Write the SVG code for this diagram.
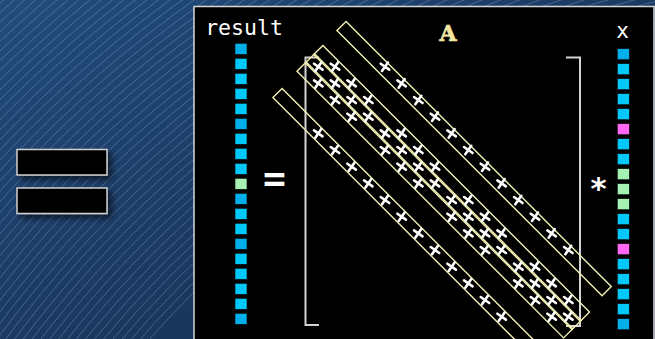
<svg xmlns="http://www.w3.org/2000/svg" xmlns:xlink="http://www.w3.org/1999/xlink" width="655" height="339" viewBox="0 0 655 339">
  <defs>
    <linearGradient id="bg" x1="0" y1="0" x2="1" y2="1">
      <stop offset="0" stop-color="#214c7c"/>
      <stop offset="1" stop-color="#14284a"/>
    </linearGradient>
    <filter id="shadow" x="-20%" y="-40%" width="150%" height="200%">
      <feGaussianBlur in="SourceAlpha" stdDeviation="3"/>
      <feOffset dx="4" dy="4" result="b"/>
      <feComponentTransfer><feFuncA type="linear" slope="0.6"/></feComponentTransfer>
      <feMerge><feMergeNode/><feMergeNode in="SourceGraphic"/></feMerge>
    </filter>
    <filter id="soft" x="-50%" y="-50%" width="200%" height="200%">
      <feGaussianBlur stdDeviation="0.45"/>
    </filter>
    <!-- nonzero entry marker: slightly tilted plus -->
    <g id="nz">
      <path d="M-5.2,0 H5.2 M0,-5.2 V5.2" transform="rotate(35)" stroke="#ffffff" stroke-width="2.6" stroke-linecap="round" fill="none"/>
    </g>
  </defs>
  <style>
    .mono { font-family: "DejaVu Sans Mono", "Liberation Mono", monospace; fill: #ffffff; }
    .band { fill: none; stroke: #f2f0b4; stroke-width: 1.4; }
    .sq { stroke: #0a0a0a; stroke-width: 0.6; }
    .b1 { fill: #00c8f8; }
    .b2 { fill: #00aeea; }
    .gr { fill: #a6f2b2; }
    .mg { fill: #ff66f2; }
    .bracket { fill: none; stroke: #d4d4d4; stroke-width: 2; }
    .hatch { fill: none; stroke: #b4c8e0; stroke-opacity: 0.38; stroke-width: 0.8; }
  </style>

  <!-- backdrop -->
  <g id="backdrop">
    <rect x="0" y="0" width="655" height="339" fill="url(#bg)"/>
    <g class="hatch">
      <circle cx="900" cy="1000" r="1000"/><circle cx="900" cy="1000" r="1007"/><circle cx="900" cy="1000" r="1014"/>
      <circle cx="900" cy="1000" r="1021"/><circle cx="900" cy="1000" r="1028"/><circle cx="900" cy="1000" r="1035"/>
      <circle cx="900" cy="1000" r="1042"/><circle cx="900" cy="1000" r="1049"/><circle cx="900" cy="1000" r="1056"/>
      <circle cx="900" cy="1000" r="1063"/><circle cx="900" cy="1000" r="1070"/><circle cx="900" cy="1000" r="1077"/>
      <circle cx="900" cy="1000" r="1084"/><circle cx="900" cy="1000" r="1091"/><circle cx="900" cy="1000" r="1098"/>
      <circle cx="900" cy="1000" r="1105"/><circle cx="900" cy="1000" r="1112"/><circle cx="900" cy="1000" r="1119"/>
      <circle cx="900" cy="1000" r="1126"/><circle cx="900" cy="1000" r="1133"/><circle cx="900" cy="1000" r="1140"/>
      <circle cx="900" cy="1000" r="1147"/><circle cx="900" cy="1000" r="1154"/><circle cx="900" cy="1000" r="1161"/>
      <circle cx="900" cy="1000" r="1168"/><circle cx="900" cy="1000" r="1175"/><circle cx="900" cy="1000" r="1182"/>
      <circle cx="900" cy="1000" r="1189"/><circle cx="900" cy="1000" r="1196"/><circle cx="900" cy="1000" r="1203"/>
      <circle cx="900" cy="1000" r="1210"/><circle cx="900" cy="1000" r="1217"/><circle cx="900" cy="1000" r="1224"/>
      <circle cx="900" cy="1000" r="1231"/><circle cx="900" cy="1000" r="1238"/><circle cx="900" cy="1000" r="1245"/>
      <circle cx="900" cy="1000" r="1252"/><circle cx="900" cy="1000" r="1259"/><circle cx="900" cy="1000" r="1266"/>
      <circle cx="900" cy="1000" r="1273"/><circle cx="900" cy="1000" r="1280"/><circle cx="900" cy="1000" r="1287"/>
      <circle cx="900" cy="1000" r="1294"/><circle cx="900" cy="1000" r="1301"/><circle cx="900" cy="1000" r="1308"/>
      <circle cx="900" cy="1000" r="1315"/><circle cx="900" cy="1000" r="1322"/><circle cx="900" cy="1000" r="1329"/>
      <circle cx="900" cy="1000" r="1336"/><circle cx="900" cy="1000" r="1343"/><circle cx="900" cy="1000" r="1350"/>
      <circle cx="900" cy="1000" r="1357"/><circle cx="900" cy="1000" r="1364"/><circle cx="900" cy="1000" r="1371"/>
      <circle cx="900" cy="1000" r="1378"/><circle cx="900" cy="1000" r="1385"/><circle cx="900" cy="1000" r="1392"/>
      <circle cx="900" cy="1000" r="1399"/><circle cx="900" cy="1000" r="1406"/><circle cx="900" cy="1000" r="1413"/>
    </g>
  </g>

  <!-- two small boxes on the left -->
  <g id="box-top" filter="url(#shadow)">
    <rect x="17" y="149.5" width="90" height="25.5" fill="#000" stroke="#d0d0d0" stroke-width="1.5"/>
  </g>
  <g id="box-bottom" filter="url(#shadow)">
    <rect x="17" y="188" width="90" height="25.5" fill="#000" stroke="#d0d0d0" stroke-width="1.5"/>
  </g>

  <!-- main panel -->
  <g id="panel">
    <rect x="194" y="6.5" width="460" height="340" fill="#000" stroke="#d8d8d8" stroke-width="1.5"/>
  </g>

  <!-- result vector -->
  <g id="result">
    <text class="mono" x="244" y="35" font-size="21.5" text-anchor="middle">result</text>
    <rect class="sq b2" x="235" y="43.3" width="12" height="11"/>
    <rect class="sq b1" x="235" y="58.3" width="12" height="11"/>
    <rect class="sq b1" x="235" y="73.3" width="12" height="11"/>
    <rect class="sq b1" x="235" y="88.3" width="12" height="11"/>
    <rect class="sq b1" x="235" y="103.3" width="12" height="11"/>
    <rect class="sq b2" x="235" y="118.3" width="12" height="11"/>
    <rect class="sq b1" x="235" y="133.3" width="12" height="11"/>
    <rect class="sq b1" x="235" y="148.3" width="12" height="11"/>
    <rect class="sq b1" x="235" y="163.3" width="12" height="11"/>
    <rect class="sq gr" x="235" y="178.3" width="12" height="11"/>
    <rect class="sq b2" x="235" y="193.3" width="12" height="11"/>
    <rect class="sq b1" x="235" y="208.3" width="12" height="11"/>
    <rect class="sq b1" x="235" y="223.3" width="12" height="11"/>
    <rect class="sq b2" x="235" y="238.3" width="12" height="11"/>
    <rect class="sq b1" x="235" y="253.3" width="12" height="11"/>
    <rect class="sq b1" x="235" y="268.3" width="12" height="11"/>
    <rect class="sq b1" x="235" y="283.3" width="12" height="11"/>
    <rect class="sq b1" x="235" y="298.3" width="12" height="11"/>
    <rect class="sq b2" x="235" y="313.3" width="12" height="11"/>
  </g>

  <g id="equals">
    <text class="mono" x="274.5" y="191" font-size="38" font-weight="bold" text-anchor="middle">=</text>
  </g>

  <!-- matrix A -->
  <g id="matrix">
    <text x="448" y="40.5" font-family="DejaVu Serif, Liberation Serif, serif" font-weight="bold" font-size="22" fill="#f2e8a2" stroke="#f2e8a2" stroke-width="0.7" text-anchor="middle">A</text>
    <path class="bracket" d="M319,57.5 H305.5 V325 H319"/>
    <path class="bracket" d="M566,57.5 H580 V326 H566"/>

    <!-- stored diagonals, offsets +4, -4, 0, +1, -1 -->
    <g id="bands">
      <rect class="band" x="0" y="-6.5" width="375" height="13" transform="translate(341.5,26) rotate(45)"/>
      <rect class="band" x="0" y="-6.5" width="377" height="13" transform="translate(277.5,93) rotate(45)"/>
      <rect class="band" x="0" y="-6.5" width="377" height="13" transform="translate(310,58.4) rotate(45)"/>
      <rect class="band" x="0" y="-6.5" width="377" height="13" transform="translate(318.3,50) rotate(45)"/>
      <rect class="band" x="0" y="-6.5" width="377" height="13" transform="translate(301.6,66.7) rotate(45)"/>
    </g>

    <!-- nonzeros of the 16x16 five-point stencil matrix -->
    <g id="entries" transform="translate(318.3,66.7)" filter="url(#soft)">
      <!-- main diagonal -->
      <use xlink:href="#nz" x="0" y="0"/><use xlink:href="#nz" x="16.67" y="16.67"/><use xlink:href="#nz" x="33.33" y="33.33"/><use xlink:href="#nz" x="50" y="50"/>
      <use xlink:href="#nz" x="66.67" y="66.67"/><use xlink:href="#nz" x="83.33" y="83.33"/><use xlink:href="#nz" x="100" y="100"/><use xlink:href="#nz" x="116.67" y="116.67"/>
      <use xlink:href="#nz" x="133.33" y="133.33"/><use xlink:href="#nz" x="150" y="150"/><use xlink:href="#nz" x="166.67" y="166.67"/><use xlink:href="#nz" x="183.33" y="183.33"/>
      <use xlink:href="#nz" x="200" y="200"/><use xlink:href="#nz" x="216.67" y="216.67"/><use xlink:href="#nz" x="233.33" y="233.33"/><use xlink:href="#nz" x="250" y="250"/>
      <!-- offset +1 -->
      <use xlink:href="#nz" x="16.67" y="0"/><use xlink:href="#nz" x="33.33" y="16.67"/><use xlink:href="#nz" x="50" y="33.33"/>
      <use xlink:href="#nz" x="83.33" y="66.67"/><use xlink:href="#nz" x="100" y="83.33"/><use xlink:href="#nz" x="116.67" y="100"/>
      <use xlink:href="#nz" x="150" y="133.33"/><use xlink:href="#nz" x="166.67" y="150"/><use xlink:href="#nz" x="183.33" y="166.67"/>
      <use xlink:href="#nz" x="216.67" y="200"/><use xlink:href="#nz" x="233.33" y="216.67"/><use xlink:href="#nz" x="250" y="233.33"/>
      <!-- offset -1 -->
      <use xlink:href="#nz" x="0" y="16.67"/><use xlink:href="#nz" x="16.67" y="33.33"/><use xlink:href="#nz" x="33.33" y="50"/>
      <use xlink:href="#nz" x="66.67" y="83.33"/><use xlink:href="#nz" x="83.33" y="100"/><use xlink:href="#nz" x="100" y="116.67"/>
      <use xlink:href="#nz" x="133.33" y="150"/><use xlink:href="#nz" x="150" y="166.67"/><use xlink:href="#nz" x="166.67" y="183.33"/>
      <use xlink:href="#nz" x="200" y="216.67"/><use xlink:href="#nz" x="216.67" y="233.33"/><use xlink:href="#nz" x="233.33" y="250"/>
      <!-- offset +4 -->
      <use xlink:href="#nz" x="66.67" y="0"/><use xlink:href="#nz" x="83.33" y="16.67"/><use xlink:href="#nz" x="100" y="33.33"/><use xlink:href="#nz" x="116.67" y="50"/>
      <use xlink:href="#nz" x="133.33" y="66.67"/><use xlink:href="#nz" x="150" y="83.33"/><use xlink:href="#nz" x="166.67" y="100"/><use xlink:href="#nz" x="183.33" y="116.67"/>
      <use xlink:href="#nz" x="200" y="133.33"/><use xlink:href="#nz" x="216.67" y="150"/><use xlink:href="#nz" x="233.33" y="166.67"/><use xlink:href="#nz" x="250" y="183.33"/>
      <!-- offset -4 -->
      <use xlink:href="#nz" x="0" y="66.67"/><use xlink:href="#nz" x="16.67" y="83.33"/><use xlink:href="#nz" x="33.33" y="100"/><use xlink:href="#nz" x="50" y="116.67"/>
      <use xlink:href="#nz" x="66.67" y="133.33"/><use xlink:href="#nz" x="83.33" y="150"/><use xlink:href="#nz" x="100" y="166.67"/><use xlink:href="#nz" x="116.67" y="183.33"/>
      <use xlink:href="#nz" x="133.33" y="200"/><use xlink:href="#nz" x="150" y="216.67"/><use xlink:href="#nz" x="166.67" y="233.33"/><use xlink:href="#nz" x="183.33" y="250"/>
    </g>
  </g>

  <g id="times">
    <text class="mono" x="598.5" y="199" font-size="31" font-weight="bold" text-anchor="middle">*</text>
  </g>

  <!-- x vector -->
  <g id="xvec">
    <text class="mono" x="622.5" y="38" font-size="21" text-anchor="middle">x</text>
    <rect class="sq b2" x="617.3" y="48.7" width="12" height="11"/>
    <rect class="sq b1" x="617.3" y="63.7" width="12" height="11"/>
    <rect class="sq b1" x="617.3" y="78.7" width="12" height="11"/>
    <rect class="sq b1" x="617.3" y="93.7" width="12" height="11"/>
    <rect class="sq b1" x="617.3" y="108.7" width="12" height="11"/>
    <rect class="sq mg" x="617.3" y="123.7" width="12" height="11"/>
    <rect class="sq b1" x="617.3" y="138.7" width="12" height="11"/>
    <rect class="sq b1" x="617.3" y="153.7" width="12" height="11"/>
    <rect class="sq gr" x="617.3" y="168.7" width="12" height="11"/>
    <rect class="sq gr" x="617.3" y="183.7" width="12" height="11"/>
    <rect class="sq gr" x="617.3" y="198.7" width="12" height="11"/>
    <rect class="sq b1" x="617.3" y="213.7" width="12" height="11"/>
    <rect class="sq b1" x="617.3" y="228.7" width="12" height="11"/>
    <rect class="sq mg" x="617.3" y="243.7" width="12" height="11"/>
    <rect class="sq b1" x="617.3" y="258.7" width="12" height="11"/>
    <rect class="sq b1" x="617.3" y="273.7" width="12" height="11"/>
    <rect class="sq b1" x="617.3" y="288.7" width="12" height="11"/>
    <rect class="sq b1" x="617.3" y="303.7" width="12" height="11"/>
    <rect class="sq b2" x="617.3" y="318.7" width="12" height="11"/>
  </g>
</svg>
